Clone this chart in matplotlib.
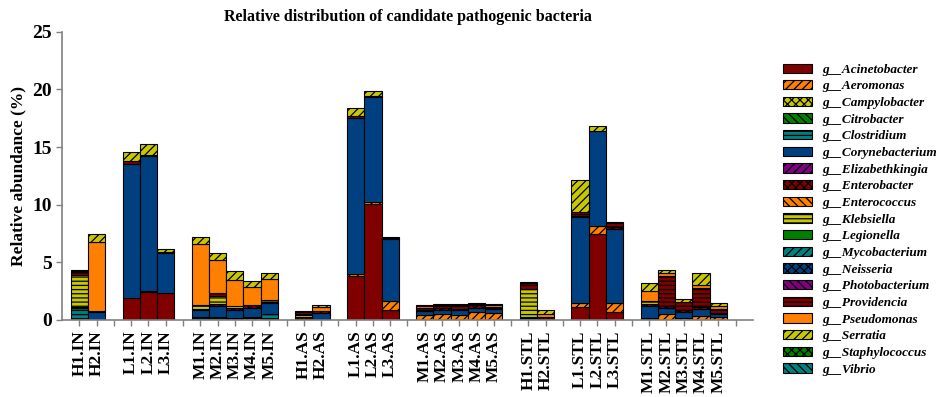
import numpy as np
import matplotlib
matplotlib.use("Agg")
import matplotlib.pyplot as plt
import matplotlib.patches as mpatches

plt.rcParams['font.family'] = ['Liberation Serif', 'DejaVu Serif']
plt.rcParams['hatch.linewidth'] = 0.9

# samples (bottom axis), groups are separated by one empty slot
groups = [
    ["H1.IN", "H2.IN"],
    ["L1.IN", "L2.IN", "L3.IN"],
    ["M1.IN", "M2.IN", "M3.IN", "M4.IN", "M5.IN"],
    ["H1.AS", "H2.AS"],
    ["L1.AS", "L2.AS", "L3.AS"],
    ["M1.AS", "M2.AS", "M3.AS", "M4.AS", "M5.AS"],
    ["H1.STL", "H2.STL"],
    ["L1.STL", "L2.STL", "L3.STL"],
    ["M1.STL", "M2.STL", "M3.STL", "M4.STL", "M5.STL"],
]

# relative abundance (%) per genus, same sample order as groups
acinetobacter = [0, 0, 1.95, 2.4, 2.3, 0, 0, 0, 0, 0,
                 0, 0, 3.85, 10.1, 0.9, 0, 0, 0, 0, 0,
                 0, 0, 1.15, 7.5, 0.65, 0, 0, 0, 0, 0]
aeromonas = [0, 0, 0, 0.1, 0.08, 0, 0, 0.1, 0.15, 0.1,
             0.05, 0, 0.1, 0.1, 0.75, 0.45, 0.5, 0.45, 0.65, 0.58,
             0, 0, 0.3, 0.65, 0.85, 0.05, 0.55, 0.2, 0.35, 0.3]
campylobacter = [0] * 30
citrobacter = [0] * 30
clostridium = [1.0, 0, 0, 0, 0, 0.3, 0.3, 0.1, 0.1, 0.4,
               0, 0.1, 0, 0, 0, 0, 0, 0, 0, 0,
               0.15, 0, 0, 0, 0, 0.1, 0, 0, 0, 0]
corynebacterium = [0.1, 0.7, 11.6, 11.7, 3.4, 0.55, 0.95, 0.7, 0.8, 0.95,
                   0.05, 0.5, 13.6, 9.15, 5.35, 0.35, 0.4, 0.38, 0.35, 0.35,
                   0.1, 0.1, 7.45, 8.2, 6.4, 1.1, 0.5, 0.5, 0.6, 0.2]
elizabethkingia = [0] * 30
enterobacter = [0, 0.1, 0, 0, 0.15, 0.1, 0.1, 0.1, 0.25, 0.1,
                0.2, 0.15, 0, 0, 0.15, 0.1, 0.1, 0.1, 0.3, 0.1,
                0.05, 0.15, 0.1, 0, 0.15, 0.15, 0.15, 0.15, 0.15, 0.1]
enterococcus = [0] * 30
klebsiella = [2.8, 0, 0, 0, 0, 0.35, 0.75, 0.2, 0, 0.2,
              0.1, 0, 0, 0, 0, 0, 0, 0, 0, 0,
              2.35, 0, 0, 0, 0, 0.25, 0, 0, 0, 0]
legionella = [0] * 30
mycobacterium = [0] * 30
neisseria = [0] * 30
photobacterium = [0] * 30
providencia = [0.25, 0, 0.2, 0.15, 0, 0, 0.2, 0, 0, 0,
               0.3, 0, 0.1, 0.05, 0, 0.1, 0.2, 0.25, 0, 0.1,
               0.6, 0, 0.35, 0.05, 0.35, 0, 2.6, 0.75, 1.65, 0.35]
pseudomonas = [0.1, 6.0, 0, 0, 0, 5.3, 2.9, 2.3, 1.6, 1.8,
               0, 0.35, 0, 0, 0, 0.25, 0.1, 0.08, 0.1, 0.15,
               0, 0.3, 0, 0, 0, 0.88, 0.3, 0, 0.25, 0.25]
serratia = [0.1, 0.65, 0.8, 0.95, 0.2, 0.6, 0.6, 0.75, 0.45, 0.5,
            0.05, 0.2, 0.75, 0.5, 0.05, 0.05, 0.05, 0.1, 0.1, 0.1,
            0.05, 0.3, 2.75, 0.45, 0.1, 0.65, 0.2, 0.25, 1.05, 0.25]
staphylococcus = [0] * 30
vibrio = [0] * 30

genera = [
    ("Acinetobacter", acinetobacter, "#800000", None),
    ("Aeromonas", aeromonas, "#FF8000", "////"),
    ("Campylobacter", campylobacter, "#C8C800", "xxxx"),
    ("Citrobacter", citrobacter, "#008000", "\\\\\\\\"),
    ("Clostridium", clostridium, "#008080", "----"),
    ("Corynebacterium", corynebacterium, "#004080", None),
    ("Elizabethkingia", elizabethkingia, "#800080", "////"),
    ("Enterobacter", enterobacter, "#800000", "xxxx"),
    ("Enterococcus", enterococcus, "#FF8000", "\\\\\\\\"),
    ("Klebsiella", klebsiella, "#C8C800", "----"),
    ("Legionella", legionella, "#008000", None),
    ("Mycobacterium", mycobacterium, "#008080", "////"),
    ("Neisseria", neisseria, "#004080", "xxxx"),
    ("Photobacterium", photobacterium, "#800080", "\\\\\\\\"),
    ("Providencia", providencia, "#800000", "----"),
    ("Pseudomonas", pseudomonas, "#FF8000", None),
    ("Serratia", serratia, "#C8C800", "////"),
    ("Staphylococcus", staphylococcus, "#008000", "xxxx"),
    ("Vibrio", vibrio, "#008080", "\\\\\\\\"),
]

# slot positions with one blank slot between groups
xpos, labels = [], []
slot = 0
for g in groups:
    for s in g:
        xpos.append(slot)
        labels.append(s)
        slot += 1
    slot += 1
n_slots = slot - 1
xpos = np.array(xpos)

fig = plt.figure(figsize=(9.41, 3.97), dpi=100)
ax = fig.add_axes([0.066, 0.194, 0.734, 0.726])

bottom = np.zeros(len(xpos))
handles = []
for name, vals, color, hatch in genera:
    vals = np.array(vals, dtype=float)
    lw = np.where(vals > 0, 0.8, 0.0)
    ax.bar(xpos, vals, width=1.0, bottom=bottom, color=color,
           edgecolor="black", linewidth=lw, hatch=hatch)
    bottom += vals
    handles.append(mpatches.Patch(facecolor=color, edgecolor="black",
                                  linewidth=0.8, hatch=hatch,
                                  label="g__" + name))

ax.set_xlim(-1, n_slots + 1)
ax.set_ylim(0, 25)
ax.set_yticks([0, 5, 10, 15, 20, 25])
ax.set_xticks(np.arange(0, n_slots + 1))
tick_labels = [""] * (n_slots + 1)
for p, l in zip(xpos, labels):
    tick_labels[p] = l
ax.set_xticklabels(tick_labels, rotation=90, fontsize=12.5, fontweight="bold")
for t in ax.get_yticklabels():
    t.set_fontsize(14)
    t.set_fontweight("bold")

for side in ["top", "right"]:
    ax.spines[side].set_visible(False)
for side in ["left", "bottom"]:
    ax.spines[side].set_color("#808080")
    ax.spines[side].set_linewidth(1.2)
ax.tick_params(axis="both", direction="out", length=4, color="#808080", width=1)

ax.set_ylabel("Relative abundance (%)", fontsize=12.5, fontweight="bold")
ax.set_title("Relative distribution of candidate pathogenic bacteria",
             fontsize=11.5, fontweight="bold", pad=8)

fig.legend(handles=handles, loc="upper left", bbox_to_anchor=(0.832, 0.84),
           frameon=False, prop={"size": 9.5, "weight": "bold", "style": "italic"},
           handlelength=2.2, handleheight=0.7, handletextpad=0.75,
           labelspacing=0.335, borderaxespad=0, borderpad=0)

fig.savefig("out.png", dpi=100)
